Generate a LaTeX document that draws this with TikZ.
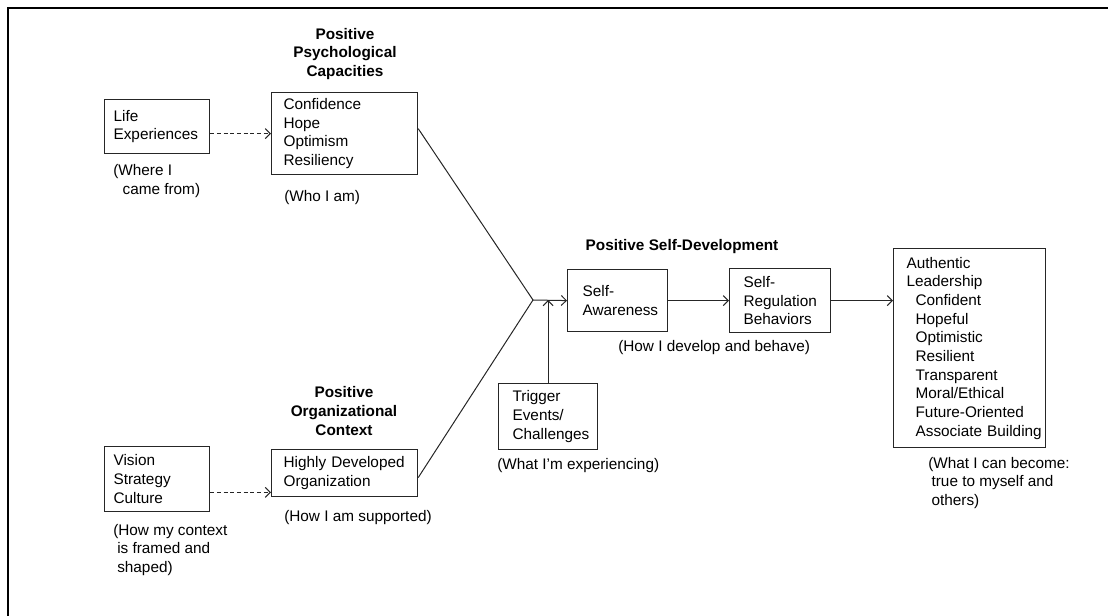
\documentclass[tikz,border=0pt]{standalone}
\usepackage{fontspec}
\setmainfont{Liberation Sans}
\usetikzlibrary{arrows.meta}

\begin{document}
\begin{tikzpicture}[x=0.75pt,y=-0.75pt,
  every node/.style={font=\fontsize{11.5}{14}\selectfont, inner sep=0pt,
    execute at begin node={\hyphenpenalty=10000\exhyphenpenalty=10000\relax}},
  box/.style={draw=black!85, line width=0.9pt, anchor=north west, align=left, inner ysep=0pt},
  head/.style={font=\fontsize{11.5}{14}\selectfont\bfseries, align=center, anchor=center},
  note/.style={anchor=west, align=left},
  link/.style={draw=black!85, line width=0.75pt},
  arr/.style={link, -{Straight Barb[length=3.8pt,width=7.5pt]}},
  dasharr/.style={arr, dash pattern=on 3pt off 2pt},
]
\useasboundingbox (0,0) rectangle (1108,616);

% outer frame (left and top edges)
\draw[line width=1.5pt] (8,616) -- (8,8) -- (1108,8);

% left column: sources
\node[box, minimum width=78.75pt, minimum height=40.5pt, inner xsep=6.75pt, text width=65.25pt]
  (life) at (104,99) {Life\\Experiences};
\node[box, minimum width=78.75pt, minimum height=48.75pt, inner xsep=6.75pt, text width=65.25pt]
  (vision) at (104,446) {Vision\\Strategy\\Culture};

% capacities and organizational context
\node[head] (caphead) at (345,54) {Positive\\Psychological\\Capacities};
\node[box, minimum width=109.5pt, minimum height=61.5pt, inner xsep=9pt, text width=91.5pt]
  (cap) at (271,92) {Confidence\\Hope\\Optimism\\Resiliency};
\node[head] (orghead) at (344,411) {Positive\\Organizational\\Context};
\node[box, minimum width=109.5pt, minimum height=35.25pt, inner xsep=9pt, text width=91.5pt]
  (org) at (271,449) {Highly~Developed\\Organization};

% self-development
\node[head] (sdhead) at (682,247) {Positive Self-Development};
\node[box, minimum width=75pt, minimum height=46.5pt, inner xsep=11.25pt, text width=52.5pt]
  (sa) at (567,269) {Self-\\Awareness};
\node[box, minimum width=75.75pt, minimum height=48pt, inner xsep=10.5pt, text width=54.75pt]
  (sr) at (729,268) {Self-\\Regulation\\Behaviors};
\node[box, minimum width=74.25pt, minimum height=49.5pt, inner xsep=10.5pt, text width=53.25pt]
  (trig) at (498,383) {Trigger\\Events/\\Challenges};

% outcome
\node[box, minimum width=114pt, minimum height=149.25pt, inner xsep=9.75pt, text width=94.5pt]
  (auth) at (893,248) {Authentic\\Leadership\\
  \hspace*{6.75pt}Confident\\\hspace*{6.75pt}Hopeful\\\hspace*{6.75pt}Optimistic\\
  \hspace*{6.75pt}Resilient\\\hspace*{6.75pt}Transparent\\\hspace*{6.75pt}Moral/Ethical\\
  \hspace*{6.75pt}Future-Oriented\\\hspace*{6.75pt}Associate~Building};

% captions
\node[note] (where) at (113,181) {(Where I\\\hspace*{7pt}came from)};
\node[note] (who) at (284,198) {(Who I am)};
\node[note] (ctx) at (113,550) {(How my context\\\hspace*{3pt}is framed and\\\hspace*{3pt}shaped)};
\node[note] (supp) at (284,518) {(How I am supported)};
\node[note] (dev) at (618,348) {(How I develop and behave)};
\node[note] (exp) at (497,466) {(What I'm experiencing)};
\node[note] (become) at (928,483) {(What I can become:\\\hspace*{2.5pt}true to myself and\\\hspace*{2.5pt}others)};

% connectors
\coordinate (v) at (533,300);
\draw[dasharr] ([yshift=-5.25pt]life.east) coordinate (le) -- (le -| cap.west);
\draw[dasharr] ([yshift=-10pt]vision.east) coordinate (ve) -- (ve -| org.west);
\draw[link] ([yshift=3.75pt]cap.east) -- (v);
\draw[link] ([yshift=-3.4pt]org.east) -- (v);
\draw[arr] (v) -- (sa.west);
\draw[arr] (trig.north) -- (trig.north |- v);
\draw[arr] (sa.east) -- (sr.west);
\draw[arr] (sr.east) -- (sr.east -| auth.west);
\end{tikzpicture}
\end{document}
